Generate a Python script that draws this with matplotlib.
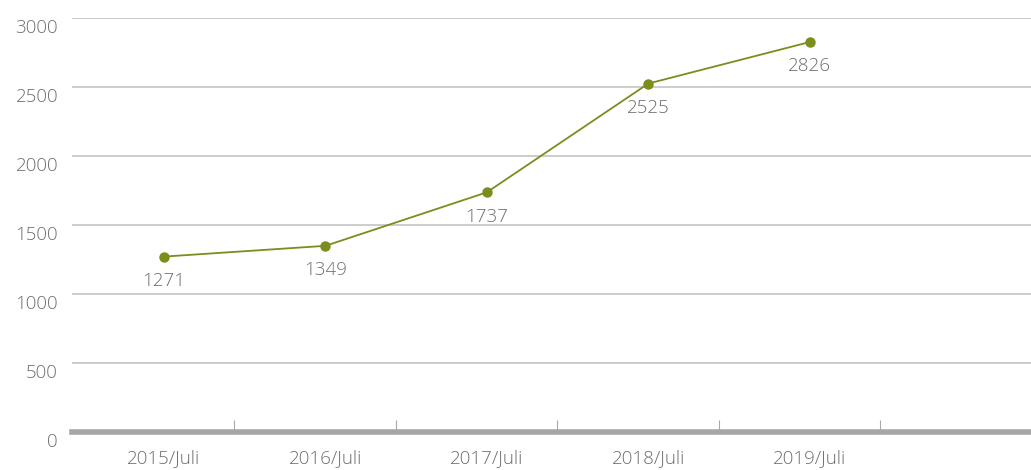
import matplotlib.pyplot as plt
import matplotlib.transforms as mtransforms
from matplotlib.ticker import FixedLocator

plt.rcParams['font.family'] = ['Open Sans', 'DejaVu Sans']

periods = ['2015/Juli', '2016/Juli', '2017/Juli', '2018/Juli', '2019/Juli']
members = [1271, 1349, 1737, 2525, 2826]

line_color = '#7b8d1d'
text_color = '#6e6e6e'
label_size = 13.5

fig = plt.figure(figsize=(10.31, 4.70), dpi=100)
ax = fig.add_axes([0.0698, 0.0809, 0.9302, 0.8808])

x = list(range(len(periods)))
ax.plot(x, members, color=line_color, linewidth=1.3, marker='o',
        markersize=6.5, zorder=3)

for xi, val in zip(x, members):
    ax.annotate(str(val), (xi, val), xytext=(0, -17.5), textcoords='offset points',
                ha='center', va='center', fontsize=label_size,
                fontweight='light', color=text_color)

ax.set_xlim(-0.57, 5.37)
ax.set_ylim(0, 3000)
ax.set_yticks(range(0, 3001, 500))
ax.yaxis.grid(True, color='#c4c4c4', linewidth=1.2)
ax.set_axisbelow(True)

# separators between the period slots
ax.set_xticks(x)
ax.set_xticklabels(periods)
ax.xaxis.set_minor_locator(FixedLocator([i + 0.435 for i in x]))
ax.tick_params(axis='x', which='major', length=0, pad=12,
               labelsize=label_size, labelcolor=text_color)
ax.tick_params(axis='x', which='minor', direction='in', length=9,
               width=0.8, color='#a8a8aa')
ax.tick_params(axis='y', length=0, pad=10, labelsize=label_size,
               labelcolor=text_color)
for lbl in ax.get_xticklabels() + ax.get_yticklabels():
    lbl.set_fontweight('light')

# y labels sit a little below their gridlines
shift = mtransforms.ScaledTranslation(0, -6 / 72, fig.dpi_scale_trans)
for lbl in ax.get_yticklabels():
    lbl.set_transform(lbl.get_transform() + shift)

for side in ['top', 'right', 'left']:
    ax.spines[side].set_visible(False)
ax.spines['bottom'].set_color('#a6a6a8')
ax.spines['bottom'].set_linewidth(4)
ax.spines['bottom'].set_zorder(2)

fig.savefig('out.png', dpi=100)
